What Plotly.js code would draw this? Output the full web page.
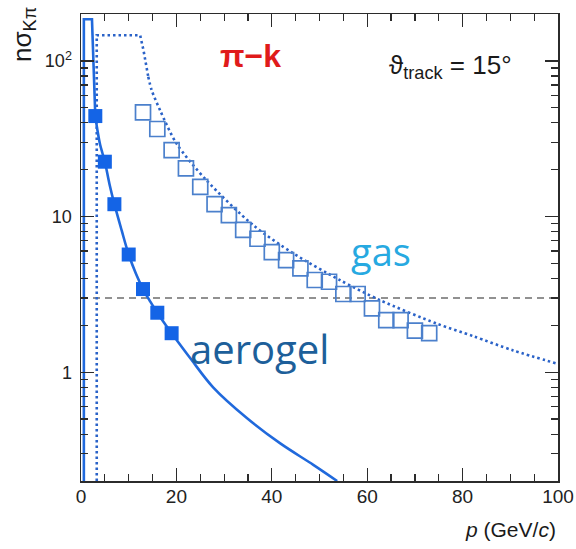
<!DOCTYPE html>
<html>
<head>
<meta charset="utf-8">
<script src="https://cdn.plot.ly/plotly-3.0.1.min.js"></script>
<style>
  html, body { margin: 0; padding: 0; background: #fff; }
  #chart { width: 576px; height: 549px; }
</style>
</head>
<body>
<div id="chart"></div>
<script>
// pi/K separation power (n sigma) versus momentum, dual-radiator RICH at 15 degrees

// aerogel radiator: expected separation, below-threshold edge and falling branch
const aerogelEdgeP = [0.6, 0.6, 2.3, 2.6, 2.85, 3.0];
const aerogelEdgeV = [0.2, 185, 185, 100, 55, 44.2];
const aerogelCurveP = [3.0, 3.5, 4.0, 4.5, 5.0, 6.0, 7.0, 8.5, 10, 11.5, 13, 14.5, 16, 17.5, 19, 23, 27.7, 34.7, 41.7, 48.7, 53.7];
const aerogelCurveV = [44.2, 35, 29, 25.5, 22.5, 16, 12.0, 8.2, 5.7, 4.3, 3.42, 2.85, 2.41, 2.06, 1.78, 1.22, 0.80, 0.51, 0.35, 0.254, 0.2];
// aerogel radiator: simulated points
const aerogelP = [3, 5, 7, 10, 13, 16, 19];
const aerogelV = [44.2, 22.5, 12.0, 5.7, 3.42, 2.41, 1.78];

// gas radiator: expected separation, below-threshold edge and falling branch
const gasEdgeP = [3.3, 3.3, 12.4, 13.1, 14.1];
const gasEdgeV = [0.2, 146, 146, 117, 79];
const gasCurveP = [14.1, 14.8, 16.6, 20, 26.3, 36.1, 44.5, 54.3, 62.7, 74.6, 82.3, 90.6, 100];
const gasCurveV = [79, 65, 48, 29.5, 17.1, 8.8, 5.8, 3.9, 2.9, 2.05, 1.70, 1.38, 1.13];
// gas radiator: simulated points
const gasP = [13, 16, 19, 22, 25, 28, 31, 34, 37, 40, 43, 46, 49, 52, 55, 58, 61, 64, 67, 70, 73];
const gasV = [46.7, 36.5, 26.7, 20.4, 15.5, 12.0, 10.2, 8.2, 7.2, 5.9, 5.25, 4.64, 3.91, 3.81, 3.18, 3.18, 2.57, 2.16, 2.16, 1.85, 1.78];

// 3 sigma reference level
const sigmaLevel = 3;
const pRange = [0, 100];

// axis ticks
const xTicks = [0, 20, 40, 60, 80, 100];
const yTicks = [1, 10, 100];
const yTickText = ['1', '10', '10<sup>2</sup>'];
const yMinorTicks = [0.2, 0.3, 0.4, 0.5, 0.6, 0.7, 0.8, 0.9, 2, 3, 4, 5, 6, 7, 8, 9, 20, 30, 40, 50, 60, 70, 80, 90, 200];

const axisColor = '#2b2b2b';
const aerogelLine = {color: '#2069dc', width: 2.6};
const gasLine = {color: '#2a62c8', width: 2.6, dash: '2.5px,3px'};

const traces = [
  {
    x: pRange, y: [sigmaLevel, sigmaLevel], mode: 'lines',
    line: {color: '#6e6e6e', width: 1.5, dash: '7px,5px'}, hoverinfo: 'skip'
  },
  {x: gasEdgeP, y: gasEdgeV, mode: 'lines', line: gasLine, hoverinfo: 'skip'},
  {x: gasCurveP, y: gasCurveV, mode: 'lines', line: Object.assign({shape: 'spline', smoothing: 0.8}, gasLine), hoverinfo: 'skip'},
  {x: aerogelEdgeP, y: aerogelEdgeV, mode: 'lines', line: aerogelLine, hoverinfo: 'skip'},
  {x: aerogelCurveP, y: aerogelCurveV, mode: 'lines', line: Object.assign({shape: 'spline', smoothing: 1}, aerogelLine), hoverinfo: 'skip'},
  {
    x: gasP, y: gasV, mode: 'markers',
    marker: {symbol: 'square-open', size: 15, color: '#4b80cc', line: {width: 1.7, color: '#4b80cc'}}
  },
  {
    x: aerogelP, y: aerogelV, mode: 'markers',
    marker: {symbol: 'square', size: 14, color: '#1464e6', line: {width: 0}}
  }
];

const px = v => (v - 81) / 477;   // page x -> paper fraction
const py = v => (481 - v) / 467;  // page y -> paper fraction

const layout = {
  width: 576, height: 549,
  margin: {l: 81, r: 18, t: 14, b: 68},
  paper_bgcolor: '#ffffff', plot_bgcolor: '#ffffff',
  showlegend: false,
  font: {family: '"Liberation Sans", Arial, sans-serif', size: 18, color: '#222'},
  xaxis: {
    range: pRange, tickmode: 'array', tickvals: xTicks,
    ticks: 'inside', ticklen: 13, tickwidth: 1.3, tickcolor: axisColor,
    showline: true, linecolor: axisColor, linewidth: 1.5, mirror: 'ticks',
    showgrid: false, zeroline: false,
    tickfont: {size: 19, color: '#222'},
    ticklabelstandoff: -2,
    minor: {dtick: 5, tick0: 0, ticks: 'inside', ticklen: 7, tickwidth: 1.2, tickcolor: axisColor, showgrid: false}
  },
  yaxis: {
    type: 'log', range: [Math.log10(0.2), Math.log10(200)],
    tickmode: 'array', tickvals: yTicks, ticktext: yTickText,
    ticks: 'inside', ticklen: 13, tickwidth: 1.3, tickcolor: axisColor,
    showline: true, linecolor: axisColor, linewidth: 1.5, mirror: 'ticks',
    showgrid: false, zeroline: false,
    tickfont: {size: 18, color: '#222'},
    ticklabelstandoff: 4,
    minor: {tickmode: 'array', tickvals: yMinorTicks, ticks: 'inside', ticklen: 7, tickwidth: 1.2, tickcolor: axisColor, showgrid: false}
  },
  annotations: [
    {
      xref: 'paper', yref: 'paper', x: px(250), y: py(56), xanchor: 'center', yanchor: 'middle',
      text: '<b>π−k</b>', showarrow: false,
      font: {family: '"Liberation Sans", Arial, sans-serif', size: 32, color: '#e01b1b'}
    },
    {
      xref: 'paper', yref: 'paper', x: px(387), y: py(67), xanchor: 'left', yanchor: 'middle',
      text: 'ϑ<sub>track</sub> = 15°', showarrow: false,
      font: {family: '"Liberation Sans", Arial, sans-serif', size: 26, color: '#1a1a1a'}
    },
    {
      xref: 'paper', yref: 'paper', x: px(381), y: py(251), xanchor: 'center', yanchor: 'middle',
      text: 'gas', showarrow: false,
      font: {family: '"Open Sans", "Noto Sans", sans-serif', size: 38, color: '#27a9e1'}
    },
    {
      xref: 'paper', yref: 'paper', x: px(259), y: py(348), xanchor: 'center', yanchor: 'middle',
      text: 'aerogel', showarrow: false,
      font: {family: '"Open Sans", "Noto Sans", sans-serif', size: 40, color: '#1d5f9a'}
    },
    {
      xref: 'paper', yref: 'paper', x: px(23), y: py(35), xanchor: 'center', yanchor: 'middle',
      text: 'nσ<sub>Kπ</sub>', showarrow: false, textangle: -90,
      font: {family: '"Liberation Sans", Arial, sans-serif', size: 26, color: '#1a1a1a'}
    },
    {
      xref: 'paper', yref: 'paper', x: px(558), y: py(529), xanchor: 'right', yanchor: 'middle',
      text: '<i>p</i> (GeV/<i>c</i>)', showarrow: false,
      font: {family: '"Liberation Sans", Arial, sans-serif', size: 21, color: '#1a1a1a'}
    }
  ]
};

Plotly.newPlot('chart', traces, layout, {displayModeBar: false, staticPlot: true});
</script>
</body>
</html>
